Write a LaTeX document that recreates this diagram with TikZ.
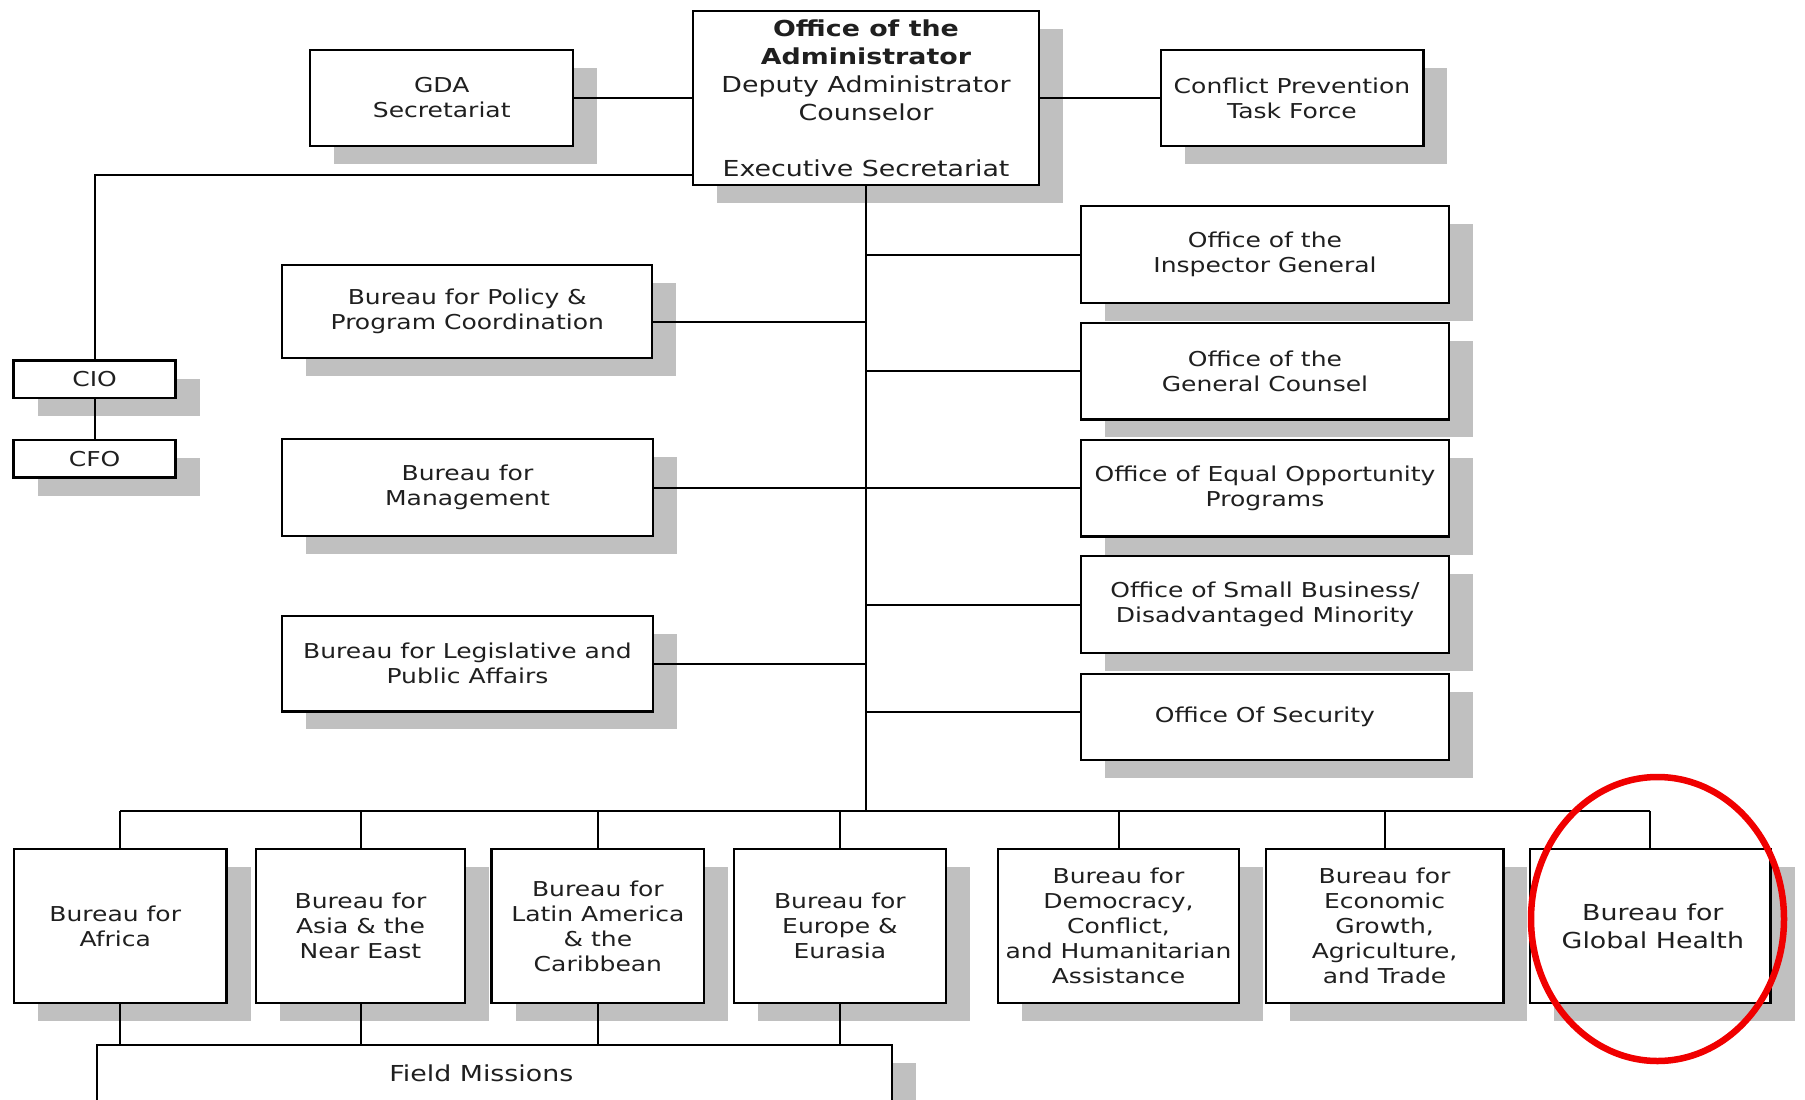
\documentclass[tikz,border=0pt]{standalone}
\usepackage{fontspec}
\setmainfont{DejaVu Sans}[FakeStretch=1.22]
\usetikzlibrary{shadows}
\definecolor{shadowgray}{RGB}{192,192,192}
\definecolor{ringred}{RGB}{240,0,0}
\begin{document}
\begin{tikzpicture}[x=1pt,y=-1pt,
  box/.style={draw, line width=2.4pt, fill=white, inner sep=0pt, align=center,
    text=black!88, font=\fontsize{20.5}{25}\selectfont,
    general shadow={fill=shadowgray, shadow xshift=24pt, shadow yshift=-18pt}},
  bigtext/.style={font=\fontsize{22}{28}\selectfont},
  rbox/.style={box, minimum width=367.6pt, minimum height=96.6pt},
  bbox/.style={box, minimum height=153.6pt},
  link/.style={line width=2pt},
  ring/.style={line width=6.5pt, draw=ringred}]
\useasboundingbox (0,0) rectangle (1805,1100);
\clip (0,0) rectangle (1805,1100);
\fill[white] (0,0) rectangle (1805,1100);

% top row
\node[box, bigtext, minimum width=345.6pt, minimum height=173.6pt] (admin) at (866,98)
  {\textbf{Office of the}\\\textbf{Administrator}\\Deputy Administrator\\Counselor\\[28pt]Executive Secretariat};
\node[box, minimum width=263pt, minimum height=95.6pt] (gda) at (441.75,98) {GDA\\Secretariat};
\node[box, minimum width=262.6pt, minimum height=95.6pt] (cptf) at (1292,98) {Conflict Prevention\\Task Force};

% left column
\node[box, minimum width=370pt, minimum height=93pt] (policy) at (467.25,311.75) {Bureau for Policy \&\\Program Coordination};
\node[box, minimum width=370.6pt, minimum height=96.6pt] (mgmt) at (467.5,487.5) {Bureau for\\Management};
\node[box, minimum width=370.6pt, minimum height=95.6pt] (legis) at (467.5,663.6) {Bureau for Legislative and\\Public Affairs};

% CIO / CFO
\node[box, minimum width=162pt, minimum height=37.6pt] (cio) at (94.65,379.3) {CIO};
\node[box, minimum width=162pt, minimum height=37.6pt] (cfo) at (94.65,458.85) {CFO};

% right column
\node[rbox] (insp) at (1265,254.5) {Office of the\\Inspector General};
\node[rbox] (gc) at (1265,371) {Office of the\\General Counsel};
\node[rbox] (eeo) at (1265,488.2) {Office of Equal Opportunity\\Programs};
\node[rbox] (sb) at (1265,604.5) {Office of Small Business/\\Disadvantaged Minority};
\node[rbox, minimum height=86.4pt] (sec) at (1265,717) {Office Of Security};

% bottom row
\node[bbox, minimum width=212.6pt] (africa) at (120.25,926) {Bureau for\hspace*{10pt}\\Africa\hspace*{10pt}};
\node[bbox, minimum width=208.6pt] (asia) at (360.5,926) {Bureau for\\Asia \& the\\Near East};
\node[bbox, minimum width=212.6pt] (latin) at (597.9,926) {Bureau for\\Latin America\\\& the\\Caribbean};
\node[bbox, minimum width=211.8pt] (europe) at (839.9,926) {Bureau for\\Europe \&\\Eurasia};
\node[bbox, minimum width=240.6pt] (democ) at (1118.5,926) {Bureau for\\Democracy,\\Conflict,\\and Humanitarian\\Assistance};
\node[bbox, minimum width=237.6pt] (econ) at (1384.55,926) {Bureau for\\Economic\\Growth,\\Agriculture,\\and Trade};
\node[bbox, bigtext, minimum width=240.3pt] (global) at (1650.35,926) {\hspace*{5pt}Bureau for\\\hspace*{5pt}Global Health};

% field missions
\node[box, bigtext, minimum width=795pt, minimum height=55.6pt] (field) at (494.35,1073) {Field Missions\hspace*{26pt}};

% connectors
\coordinate (bus) at (admin.south |- 0,810.5);
\draw[link] (gda.east) -- (admin.west);
\draw[link] (admin.east) -- (cptf.west);
\draw[link] ([yshift=11pt]admin.south west) -| (cio.north);
\draw[link] (cio.south) -- (cfo.north);
\draw[link] (admin.south) -- (bus);

\draw[link] (policy.east |- 0,322) -- (admin.south |- 0,322);
\draw[link] (mgmt.east) -- (mgmt.east -| admin.south);
\draw[link] (legis.east) -- (legis.east -| admin.south);

\draw[link] (insp.west) -- (insp.west -| admin.south);
\draw[link] (gc.west) -- (gc.west -| admin.south);
\draw[link] (eeo.west) -- (eeo.west -| admin.south);
\draw[link] (sb.west) -- (sb.west -| admin.south);
\draw[link] (sec.west |- 0,712) -- (admin.south |- 0,712);

\draw[link] (africa.north |- bus) -- (global.north |- bus);
\foreach \n in {africa,asia,latin,europe,democ,econ,global}
  \draw[link] (\n.north) -- (\n.north |- bus);
\foreach \n in {africa,asia,latin,europe}
  \draw[link] (\n.south) -- (\n.south |- field.north);

% highlight ring
\draw[ring] (1657.5,919) ellipse [x radius=126.5, y radius=142];
\end{tikzpicture}
\end{document}
